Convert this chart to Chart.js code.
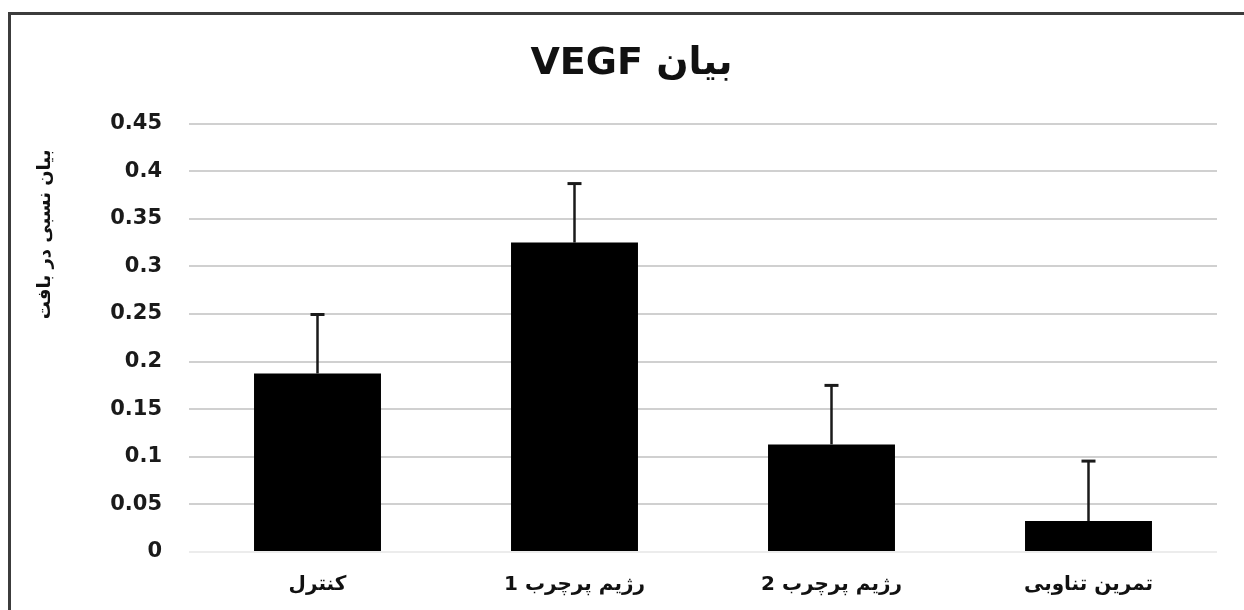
<!DOCTYPE html>
<html lang="fa">
<head>
<meta charset="utf-8">
<title>بیان VEGF</title>
<script src="https://cdn.jsdelivr.net/npm/chart.js@4.4.1/dist/chart.umd.min.js"></script>
<style>
  html, body { margin: 0; padding: 0; background: #fff; overflow: hidden; }
  #wrap { position: absolute; left: 0; top: 0; width: 1244px; height: 610px; }
  #frame { position: absolute; left: 8px; top: 12px; width: 1400px; height: 800px; border: 3px solid #3c3c3c; pointer-events: none; }
  canvas { direction: rtl; }
</style>
</head>
<body>
<div id="wrap"><canvas id="vegfChart"></canvas></div>
<div id="frame"></div>
<script>
const categories = ['کنترل', 'رژیم پرچرب 1', 'رژیم پرچرب 2', 'تمرین تناوبی'];
const values = [0.1875, 0.325, 0.113, 0.0325];
const errors = [0.062, 0.062, 0.062, 0.063];
const yTicks = [0, 0.05, 0.1, 0.15, 0.2, 0.25, 0.3, 0.35, 0.4, 0.45];
const yTickLabels = ['0', '0.05', '0.1', '0.15', '0.2', '0.25', '0.3', '0.35', '0.4', '0.45'];
const chartTitle = 'بیان VEGF';
const yTitle = 'بیان نسبی در بافت';
const FONT = "'DejaVu Sans', sans-serif";

// upper error bars with a cap, like the excel original
const errorBars = {
  id: 'errorBars',
  afterDatasetsDraw(chart) {
    const { ctx, scales: { y } } = chart;
    const meta = chart.getDatasetMeta(0);
    ctx.save();
    ctx.strokeStyle = '#1a1a1a';
    meta.data.forEach((bar, i) => {
      const top = y.getPixelForValue(values[i] + errors[i]);
      ctx.lineWidth = 2.5;
      ctx.beginPath();
      ctx.moveTo(bar.x, bar.y);
      ctx.lineTo(bar.x, top);
      ctx.stroke();
      ctx.lineWidth = 3;
      ctx.beginPath();
      ctx.moveTo(bar.x - 7, top);
      ctx.lineTo(bar.x + 7, top);
      ctx.stroke();
    });
    ctx.restore();
  }
};

// y title sits near the top of the axis, not centred
const sideTitle = {
  id: 'sideTitle',
  afterDraw(chart) {
    const { ctx, chartArea } = chart;
    ctx.save();
    ctx.translate(45, chartArea.top + 26);
    ctx.rotate(-Math.PI / 2);
    ctx.direction = 'rtl';
    ctx.textAlign = 'right';
    ctx.textBaseline = 'middle';
    ctx.font = `bold 18px ${FONT}`;
    ctx.fillStyle = '#111';
    ctx.fillText(yTitle, 0, 0);
    ctx.restore();
  }
};

function renderChart() {
  const canvas = document.getElementById('vegfChart');
  if (!canvas || typeof Chart === 'undefined') return;

  new Chart(canvas, {
    type: 'bar',
    data: {
      labels: categories,
      datasets: [
        {
          data: values,
          backgroundColor: '#000',
          borderWidth: 0,
          barPercentage: 0.494,
          categoryPercentage: 1
        }
      ]
    },
    options: {
      responsive: true,
      maintainAspectRatio: false,
      animation: false,
      layout: { padding: { left: 46, right: 27, top: 0, bottom: 0 } },
      plugins: {
        legend: { display: false },
        tooltip: { enabled: false },
        title: {
          display: true,
          text: chartTitle,
          color: '#111',
          font: { family: FONT, size: 38, weight: 'bold' },
          padding: { top: 41, bottom: 37 }
        }
      },
      scales: {
        x: {
          grid: { display: false },
          border: { display: false },
          ticks: { color: '#111', font: { family: FONT, size: 20, weight: 'bold' }, padding: 13 },
          afterFit: (scale) => { scale.height = 58; }
        },
        y: {
          min: 0,
          max: 0.45,
          afterBuildTicks: (scale) => { scale.ticks = yTicks.map(v => ({ value: v })); },
          afterFit: (scale) => { scale.width = 143; },
          grid: {
            drawTicks: false,
            lineWidth: 2,
            color: (c) => c.index === 0 ? '#ececec' : '#d0d0d0'
          },
          border: { display: false },
          ticks: {
            color: '#1a1a1a',
            padding: 27,
            font: { family: FONT, size: 21, weight: 'bold' },
            callback: (val, i) => yTickLabels[i]
          }
        }
      }
    },
    plugins: [errorBars, sideTitle]
  });
}

document.addEventListener('DOMContentLoaded', renderChart);
</script>
</body>
</html>
